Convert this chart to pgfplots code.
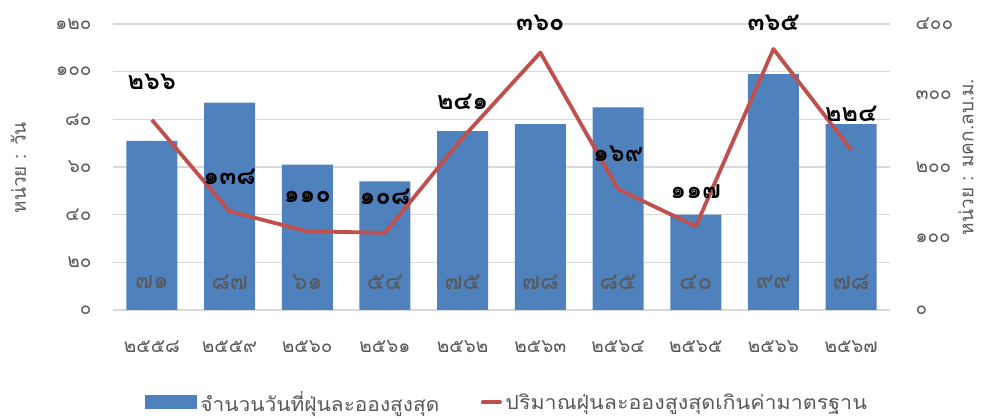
\documentclass[border=0pt]{standalone}
\usepackage{fontspec}
\setmainfont[Script=Thai]{Loma}
\usepackage{pgfplots}
\pgfplotsset{compat=1.18}
\definecolor{barblue}{HTML}{4F81BD}
\definecolor{linered}{HTML}{C0504D}
\definecolor{gridgray}{HTML}{D9D9D9}
\definecolor{txtgray}{HTML}{595959}

\pgfplotsset{
  base/.style={
    at={(113pt,109pt)}, anchor=south west,
    scale only axis, width=777pt, height=286pt,
    xmin=-0.5, xmax=9.5, clip=false,
    major tick length=0pt,
    axis line style={draw=none},
    tick label style={font=\fontsize{19}{19}\selectfont, text=txtgray},
  },
}

\begin{document}
\begin{tikzpicture}
\useasboundingbox (0,0) rectangle (1001pt,419pt);

% bars: number of days, left axis
\begin{axis}[base,
  ymin=0, ymax=120,
  axis y line*=left, axis x line*=bottom,
  ymajorgrids, grid style={gridgray, line width=1.5pt},
  ytick={0,20,...,120},
  yticklabels={๐,๒๐,๔๐,๖๐,๘๐,๑๐๐,๑๒๐},
  yticklabel style={xshift=-18pt},
  xtick={0,...,9},
  xticklabels={๒๕๕๘,๒๕๕๙,๒๕๖๐,๒๕๖๑,๒๕๖๒,๒๕๖๓,๒๕๖๔,๒๕๖๕,๒๕๖๖,๒๕๖๗},
  xticklabel style={yshift=-27pt},
  every axis y label/.style={at={(axis description cs:-0.122,0.497)}, rotate=90,
    anchor=center, font=\fontsize{19}{19}\selectfont, text=txtgray},
  ylabel={หน่วย : วัน},
  legend style={at={(axis description cs:0.508,-0.322)}, anchor=center, draw=none,
    fill=none, legend columns=2, font=\fontsize{19.5}{19.5}\selectfont, text=txtgray,
    /tikz/every even column/.style={column sep=38pt},
    nodes={inner xsep=3.5pt}},
]
\addplot[ybar, bar width=51pt, fill=barblue, draw=none,
  legend image code/.code={\fill[barblue] (0pt,-7pt) rectangle (52pt,7pt);}]
  coordinates {(0,71) (1,87) (2,61) (3,54) (4,75) (5,78) (6,85) (7,40) (8,99) (9,78)};
\addlegendentry{\scalebox{1.07}[1]{จำนวนวันที่ฝุ่นละอองสูงสุด}}
\addlegendimage{line legend, linered, line width=4pt, line cap=round}
\addlegendentry{\scalebox{1.1}[1]{ปริมาณฝุ่นละอองสูงสุดเกินค่ามาตรฐาน}}

\begin{scope}[every node/.style={font=\fontsize{24}{24}\selectfont, text=txtgray}]
\node at (axis cs:0,11.7) {๗๑};
\node at (axis cs:1,11.7) {๘๗};
\node at (axis cs:2,11.7) {๖๑};
\node at (axis cs:3,11.7) {๕๔};
\node at (axis cs:4,11.7) {๗๕};
\node at (axis cs:5,11.7) {๗๘};
\node at (axis cs:6,11.7) {๘๕};
\node at (axis cs:7,11.7) {๔๐};
\node at (axis cs:8,11.7) {๙๙};
\node at (axis cs:9,11.7) {๗๘};
\end{scope}
\end{axis}

% line: dust above standard, right axis
\begin{axis}[base,
  ymin=0, ymax=400,
  axis y line*=right, axis x line=none,
  ytick={0,100,...,400},
  yticklabels={๐,๑๐๐,๒๐๐,๓๐๐,๔๐๐},
  yticklabel style={xshift=22pt},
  every axis y label/.style={at={(axis description cs:1.098,0.535)}, rotate=90,
    anchor=center, font=\fontsize{19}{19}\selectfont, text=txtgray},
  ylabel={หน่วย : มคก.ลบ.ม.},
]
\addplot[linered, line width=3.8pt, line join=round, mark=none]
  coordinates {(0,266) (1,138) (2,110) (3,108) (4,241) (5,360) (6,169) (7,117) (8,365) (9,224)};

\begin{scope}[every node/.style={font=\bfseries\fontsize{25}{25}\selectfont, text=black}]
\node at (axis cs:0,319) {๒๖๖};
\node at (axis cs:1,186) {๑๓๘};
\node at (axis cs:2,158) {๑๑๐};
\node at (axis cs:3,158) {๑๐๘};
\node at (axis cs:4,291) {๒๔๑};
\node at (axis cs:5,401) {๓๖๐};
\node at (axis cs:6,218) {๑๖๙};
\node at (axis cs:7,165) {๑๑๗};
\node at (axis cs:8,401) {๓๖๕};
\node at (axis cs:9,275) {๒๒๔};
\end{scope}
\end{axis}
\end{tikzpicture}
\end{document}
